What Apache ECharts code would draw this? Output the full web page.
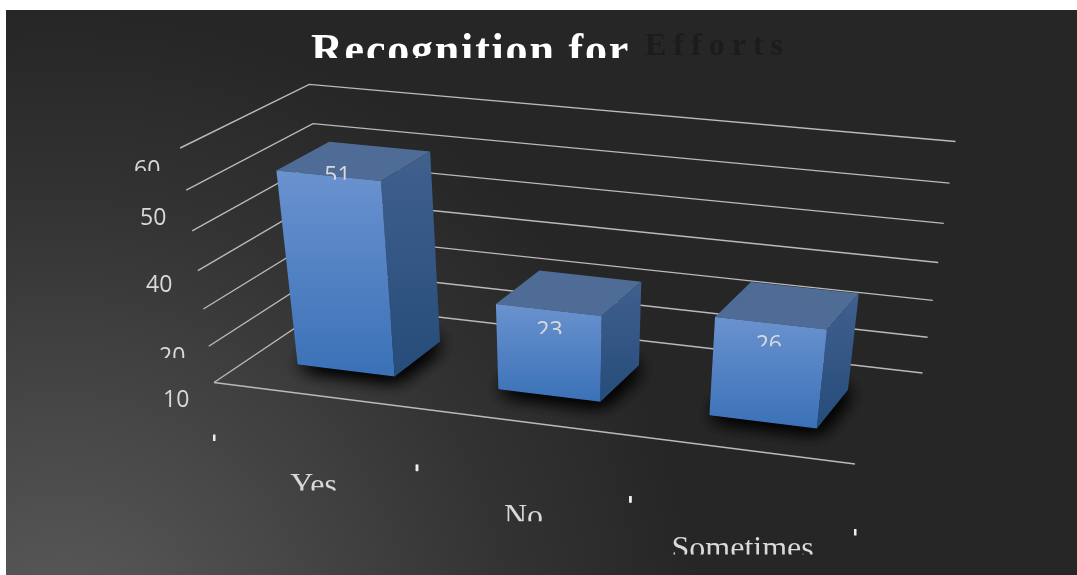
<!DOCTYPE html>
<html><head><meta charset="utf-8">
<style>html,body{margin:0;padding:0;background:#fff}#c{width:1077px;height:575px}</style>
<script src="https://cdn.jsdelivr.net/npm/echarts@6/dist/echarts.min.js"></script>
</head><body><div id="c"></div>
<script>
const categories = ['Yes', 'No', 'Sometimes'];
const values = [51, 23, 26];
const gridLevels = [0, 10, 20, 30, 40, 50, 60];
const axisTickLabels = ['60', '50', '40', '20', '10'];

// layout (screen positions of the perspective floor, text placement)
const FLOOR = {A:[214,382.5], B:[855,464], D:[922.5,373], C:[330,304.5]};
const VANISH = [570,2850];
const TOP_A_Y = 148;
const DEPTH = [0.29,0.72], BAR_W = 0.49, BAR_SHIFT = -0.003;
const axisLabelPos = [[134,159,12],[140,207,40],[146,274,40],[159,346,12],[163,389,40]];
const valueLabelOff = [[9,-5],[1,16],[-2,17]];
const valueLabelClip = [15,14,12];
const catLabelClip = [20,20,21];
const FG = '#d9d9d9';

// letter-spaced title fonts
const proto = CanvasRenderingContext2D.prototype;
const fd = Object.getOwnPropertyDescriptor(proto,'font');
Object.defineProperty(proto,'font',{configurable:true,get(){return fd.get.call(this);},set(v){
  fd.set.call(this,v);
  let s='0px';
  if(/\b44px/.test(v)) s='1.8px'; else if(/\b32px/.test(v)&&/bold/.test(v)) s='7px';
  this.letterSpacing=s;
}});

// homography of the floor
const [x0,y0]=FLOOR.A,[x1,y1]=FLOOR.B,[x2,y2]=FLOOR.D,[x3,y3]=FLOOR.C;
const dx1=x1-x2,dx2=x3-x2,sx=x0-x1+x2-x3,dy1=y1-y2,dy2=y3-y2,sy=y0-y1+y2-y3;
const den=dx1*dy2-dx2*dy1;
const g=(sx*dy2-dx2*sy)/den,h=(dx1*sy-sx*dy1)/den;
const a=x1-x0+g*x1,b=x3-x0+h*x3,c=x0,d=y1-y0+g*y1,e=y3-y0+h*y3,f=y0;
const K=(TOP_A_Y-y0)/(VANISH[1]-TOP_A_Y);
function P(u,v,z){
  const w=g*u+h*v+1+z*K;
  return [(a*u+b*v+c+z*K*VANISH[0])/w,(d*u+e*v+f+z*K*VANISH[1])/w];
}
const norm=(api,i,val)=>{const p=api.coord([i,val]);return [p[0]/api.getWidth(),1-p[1]/api.getHeight()];};

function txt(str,x,y,size,family,clipH,extra){
  return {type:'text',x,y,silent:true,
    style:Object.assign({text:str,fill:FG,font:`${size}px ${family}`,textBaseline:'top',textAlign:'left'},extra||{}),
    clipPath:{type:'rect',shape:{x:-5,y:-5,width:500,height:clipH+5}}};
}
const SANS='"Open Sans"',SERIF='"Liberation Serif"';
const LINE={fill:null,stroke:'#bababa',lineWidth:1.4};

const base={type:'custom',coordinateSystem:'cartesian2d',silent:true,animation:false,clip:false};
const option={
  animation:false,backgroundColor:'#ffffff',
  grid:{left:0,right:0,top:0,bottom:0},
  xAxis:{type:'category',data:categories,show:false},
  yAxis:{type:'value',min:0,max:60,show:false},
  graphic:[{type:'rect',z:-1,silent:true,shape:{x:6,y:10,width:1071,height:565},
    style:{fill:{type:'radial',x:60,y:650,r:640,global:true,colorStops:[{offset:0,color:'#5c5c5c'},{offset:.35,color:'#484848'},{offset:.7,color:'#333333'},{offset:1,color:'#262626'}]}}}],
  series:[
    Object.assign({},base,{name:'walls',z:2,data:gridLevels.map(v=>[0,v]),encode:{x:0,y:1},
      renderItem(p,api){
        const z=norm(api,0,api.value(1))[1];
        const kids=[{type:'polyline',shape:{points:[P(0,0,z),P(0,1,z),P(1,1,z)]},style:LINE}];
        if(api.value(1)===0) kids.push({type:'polyline',shape:{points:[P(0,0,0),P(1,0,0)]},style:LINE});
        return {type:'group',children:kids};
      }}),
    Object.assign({},base,{name:'shadows',z:3,data:values.map((v,i)=>[i,v]),encode:{x:0,y:1},
      renderItem(p,api){
        const bw=api.size([1,0])[0]/api.getWidth()*BAR_W,n=norm(api,p.dataIndex,api.value(1));
        const c0=n[0]+BAR_SHIFT,u0=c0-bw/2,u1=c0+bw/2,[v0,v1]=DEPTH;
        const poly=()=>({type:'polygon',shape:{points:[P(u0,v0,0),P(u1,v0,0),P(u1,v1,0),P(u0,v1,0)]},
          style:{fill:'#000',shadowColor:'#000',shadowBlur:20,shadowOffsetX:2,shadowOffsetY:1}});
        return {type:'group',children:[poly(),poly(),poly()]};
      }}),
    Object.assign({},base,{name:'bars',z:4,data:values.map((v,i)=>[i,v]),encode:{x:0,y:1},
      renderItem(p,api){
        const i=p.dataIndex,bw=api.size([1,0])[0]/api.getWidth()*BAR_W,n=norm(api,i,api.value(1));
        const c0=n[0]+BAR_SHIFT,u0=c0-bw/2,u1=c0+bw/2,[v0,v1]=DEPTH,z=n[1];
        const vg=(t,b)=>({type:'linear',x:0,y:0,x2:0,y2:1,colorStops:[{offset:0,color:t},{offset:1,color:b}]});
        const mid=P(c0,v0,z),off=valueLabelOff[i];
        return {type:'group',children:[
          {type:'polygon',shape:{points:[P(u0,v0,z),P(u1,v0,z),P(u1,v1,z),P(u0,v1,z)]},style:{fill:'#4f6c96'}},
          {type:'polygon',shape:{points:[P(u1,v0,z),P(u1,v1,z),P(u1,v1,0),P(u1,v0,0)]},style:{fill:vg('#40608e','#264c7a')}},
          {type:'polygon',shape:{points:[P(u0,v0,z),P(u1,v0,z),P(u1,v0,0),P(u0,v0,0)]},style:{fill:vg('#6a92cf','#3a71b7')}},
          txt(String(api.value(1)),mid[0]+off[0]-13,mid[1]+off[1]-6,23,SANS,valueLabelClip[i])
        ]};
      }}),
    Object.assign({},base,{name:'categoryAxis',z:5,data:categories.map((c,i)=>[i,0]),encode:{x:0,y:1},
      renderItem(p,api){
        const i=p.dataIndex,bw=api.size([1,0])[0]/api.getWidth(),n=norm(api,i,0)[0];
        const tick=u=>{const q=P(u,0,0);return [q[0],q[1]+52+13*u];};
        const t0=tick(n-bw/2),t1=tick(n+bw/2);
        const kids=[
          {type:'rect',shape:{x:t0[0]-1,y:t0[1],width:2.5,height:6.5},style:{fill:'#eee'}},
          {type:'rect',shape:{x:t1[0]-1,y:t1[1],width:2.5,height:6.5},style:{fill:'#eee'}}
        ];
        const w=[50,39,142][i];
        kids.push(txt(categories[i],(t0[0]+t1[0])/2-w/2,(t0[1]+t1[1])/2+21,32,SERIF,catLabelClip[i]));
        return {type:'group',children:kids};
      }}),
    Object.assign({},base,{name:'valueAxisLabels',z:5,data:axisTickLabels.map(s=>[0,+s]),encode:{x:0,y:1},
      renderItem(p,api){
        const q=axisLabelPos[p.dataIndex];
        return txt(axisTickLabels[p.dataIndex],q[0],q[1],23,SANS,q[2]);
      }}),
    Object.assign({},base,{name:'title',z:6,data:[[0,0]],encode:{x:0,y:1},
      renderItem(){
        return {type:'group',children:[
          txt('Efforts',645,27,'bold 32',SERIF,40,{fill:'#1c1c1c',font:`bold 32px ${SERIF}`,shadowColor:'rgba(0,0,0,.5)',shadowBlur:3}),
          txt('Recognition for',311,29.5,'bold 44',SERIF,28.5,{fill:'#ffffff',font:`bold 44px ${SERIF}`,shadowColor:'rgba(0,0,0,.7)',shadowBlur:4})
        ]};
      }})
  ]
};
echarts.init(document.getElementById('c')).setOption(option);
</script></body></html>
